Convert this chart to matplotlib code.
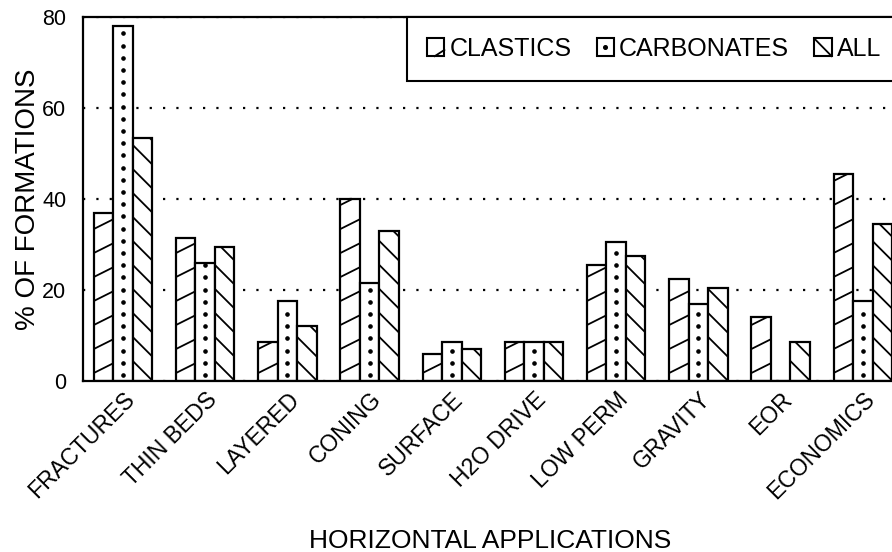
import matplotlib
matplotlib.use("Agg")
import matplotlib.pyplot as plt
import numpy as np
from matplotlib.lines import Line2D
from matplotlib.patches import Rectangle
from matplotlib.legend_handler import HandlerBase
from matplotlib.transforms import IdentityTransform, ScaledTranslation

# ---- data ----
categories = ["FRACTURES", "THIN BEDS", "LAYERED", "CONING", "SURFACE",
              "H2O DRIVE", "LOW PERM", "GRAVITY", "EOR", "ECONOMICS"]
clastics = [37, 31.5, 8.5, 40, 6, 8.5, 25.5, 22.5, 14, 45.5]
carbonates = [78, 26, 17.5, 21.5, 8.5, 8.5, 30.5, 17, 0, 17.5]
all_formations = [53.5, 29.5, 12, 33, 7, 8.5, 27.5, 20.5, 8.5, 34.5]
series_names = ["CLASTICS", "CARBONATES", "ALL"]
y_ticks = [0, 20, 40, 60, 80]

plt.rcParams["font.family"] = ["Liberation Sans", "DejaVu Sans"]

W, H = 892, 552
fig = plt.figure(figsize=(W / 100, H / 100), dpi=100)
ax = fig.add_axes([83 / W, 1 - 381 / H, (901 - 83) / W, (381 - 17) / H])
ax.set_xlim(-0.487, 9.465)
ax.set_ylim(0, 80)
ax.set_autoscale_on(False)

x = np.arange(len(categories))
bw = 0.237
bar_kw = dict(width=bw, facecolor="white", edgecolor="black", linewidth=1.6, zorder=2)
b1 = ax.bar(x - bw, clastics, **bar_kw)
b2 = ax.bar(x, carbonates, **bar_kw)
b3 = ax.bar(x + bw, all_formations, **bar_kw)


def rect_px(rect):
    (px0, py0), (px1, py1) = ax.transData.transform(
        [(rect.get_x(), rect.get_y()),
         (rect.get_x() + rect.get_width(), rect.get_y() + rect.get_height())])
    return px0, py0, px1, py1


def add_hatch(rect, slope, spacing, offset, lw=1.3):
    if rect.get_height() <= 0:
        return
    px0, py0, px1, py1 = rect_px(rect)
    w = px1 - px0
    rise = slope * w
    lo = py0 - max(rise, 0) - spacing
    hi = py1 - min(rise, 0) + spacing
    c = py0 + offset
    while c > lo:
        c -= spacing
    while c < hi:
        ln = Line2D([px0, px1], [c, c + rise], color="black", lw=lw,
                    transform=IdentityTransform(), zorder=2.5)
        ax.add_artist(ln)
        ln.set_clip_path(rect)
        c += spacing


def add_dots(rect, spacing=12.2, ms=2.3):
    if rect.get_height() <= 0:
        return
    px0, py0, px1, py1 = rect_px(rect)
    cx = (px0 + px1) / 2
    ys = np.arange(py0 + 6, py1 - 2, spacing)
    ln = Line2D(np.full_like(ys, cx), ys, ls="none", marker="o", ms=ms,
                mfc="black", mec="black", transform=IdentityTransform(), zorder=2.5)
    ax.add_artist(ln)
    ln.set_clip_path(rect)


for r in b1:
    add_hatch(r, 0.5, 24, 8)
for r in b2:
    add_dots(r)
for r in b3:
    add_hatch(r, -1.0, 24, 20)

# grid & axes styling
ax.set_yticks(y_ticks)
ax.yaxis.grid(True, linestyle=(0, (1, 5)), linewidth=1.6, color="black")
ax.set_axisbelow(True)
for s in ax.spines.values():
    s.set_linewidth(1.6)
    s.set_color("black")
ax.tick_params(axis="both", length=0)
ax.tick_params(axis="y", pad=12, labelsize=15.5)
ax.set_xticks(x, categories, rotation=45, ha="right", va="top",
              rotation_mode="anchor", fontsize=16.5)
ax.tick_params(axis="x", pad=5)

fig.text(490 / W, 1 - 548 / H, "HORIZONTAL APPLICATIONS", ha="center",
         va="baseline", fontsize=19)
fig.text(35 / W, 1 - 199 / H, "% OF FORMATIONS", ha="center", va="baseline",
         rotation=90, rotation_mode="anchor", fontsize=20)


class Swatch(HandlerBase):
    def __init__(self, kind):
        super().__init__()
        self.kind = kind

    def create_artists(self, legend, orig_handle, xdescent, ydescent, width,
                       height, fontsize, trans):
        x0, y0 = -xdescent, -ydescent
        arts = [Rectangle((x0, y0), width, height, facecolor="white",
                          edgecolor="black", lw=1.5, transform=trans)]
        if self.kind == 0:
            arts.append(Line2D([x0 + 0.45 * width, x0 + width],
                               [y0, y0 + 0.35 * height], color="black",
                               lw=1.3, transform=trans))
        elif self.kind == 1:
            arts.append(Line2D([x0 + 0.5 * width], [y0 + 0.5 * height],
                               marker="o", ms=2.6, color="black", ls="none",
                               transform=trans))
        else:
            arts.append(Line2D([x0, x0 + width], [y0 + height, y0],
                               color="black", lw=1.3, transform=trans))
        return arts


handles = [Rectangle((0, 0), 1, 1) for _ in series_names]
hmap = {h: Swatch(i) for i, h in enumerate(handles)}
leg = ax.legend(handles, series_names, handler_map=hmap, loc="upper right",
                ncol=3, frameon=True, fancybox=False, edgecolor="black",
                framealpha=1, borderaxespad=0, fontsize=18, handlelength=0.7,
                handleheight=0.72, handletextpad=0.2, columnspacing=1.0,
                borderpad=0.8)
leg.get_frame().set_linewidth(1.5)
leg.set_zorder(5)

fig.savefig("out.png", dpi=100)
